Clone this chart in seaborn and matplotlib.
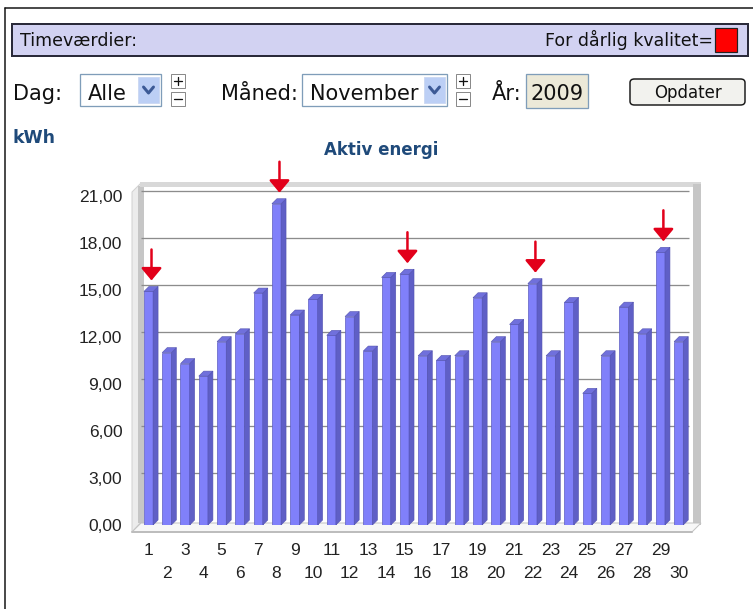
import numpy as np
import matplotlib.pyplot as plt
import seaborn as sns
from matplotlib.patches import Rectangle, Polygon, FancyBboxPatch
from matplotlib.lines import Line2D
from matplotlib.transforms import ScaledTranslation

# daily active energy, November 2009
days = list(range(1, 31))
kwh = [14.9, 11.0, 10.3, 9.5, 11.7, 12.2, 14.8, 20.5, 13.4, 14.4,
       12.1, 13.3, 11.1, 15.8, 16.0, 10.8, 10.5, 10.8, 14.5, 11.7,
       12.8, 15.4, 10.8, 14.2, 8.4, 10.8, 13.9, 12.2, 17.4, 11.7]
flagged = [1, 8, 15, 22, 29]
yticks = [0, 3, 6, 9, 12, 15, 18, 21]

sns.set_style("white")
plt.rcParams['font.family'] = ['DejaVu Sans']

W, H = 753, 609
fig = plt.figure(figsize=(W / 100, H / 100), dpi=100)
px = 0.72  # points per pixel


def fxy(x, y):
    return (x / W, 1 - y / H)


def box(x0, y0, x1, y1, **kw):
    fig.add_artist(Rectangle(fxy(x0, y1), (x1 - x0) / W, (y1 - y0) / H,
                             transform=fig.transFigure, **kw))


def poly(pts, **kw):
    fig.add_artist(Polygon([fxy(x, y) for x, y in pts], closed=True,
                           transform=fig.transFigure, **kw))


def line(pts, **kw):
    xs, ys = zip(*[fxy(x, y) for x, y in pts])
    fig.add_artist(Line2D(xs, ys, transform=fig.transFigure, **kw))


def text(x, y, s, **kw):
    fig.text(*fxy(x, y), s, **kw)


# ---- page chrome ----
line([(5, 8), (753, 8)], color='#111111', lw=1.5 * px, zorder=3)
line([(5, 8), (5, 609)], color='#111111', lw=1.5 * px, zorder=3)

box(12, 24, 748, 56, facecolor='#d2d2f2', edgecolor='#2a2a3a', lw=2 * px, zorder=3)
text(20, 46, 'Timeværdier:', fontsize=12.5, va='baseline', color='#111111', zorder=4)
text(713, 46, 'For dårlig kvalitet=', fontsize=12.5, va='baseline', ha='right',
     color='#111111', zorder=4)
box(715, 28, 737, 52, facecolor='#ff0000', edgecolor='#222222', lw=1.2 * px, zorder=4)


def combo(x0, x1, label):
    box(x0, 74, x1, 106, facecolor='white', edgecolor='#7f9db9', lw=1.3 * px, zorder=3)
    text(x0 + 8, 100, label, fontsize=15, va='baseline', color='#111111', zorder=4)
    box(x1 - 23, 77, x1 - 2, 103, facecolor='#bccff5', edgecolor='#c8d6f2', lw=0.8 * px, zorder=5)
    cx = x1 - 12.5
    line([(cx - 5, 87), (cx, 93), (cx + 5, 87)], color='#3c5a96', lw=3 * px, zorder=6)


def plusminus(x0):
    box(x0, 74, x0 + 14, 88, facecolor='white', edgecolor='#8a8a8a', lw=1 * px, zorder=3)
    box(x0, 92, x0 + 14, 106, facecolor='white', edgecolor='#8a8a8a', lw=1 * px, zorder=3)
    line([(x0 + 3, 81), (x0 + 11, 81)], color='#111111', lw=1.3 * px, zorder=4)
    line([(x0 + 7, 77), (x0 + 7, 85)], color='#111111', lw=1.3 * px, zorder=4)
    line([(x0 + 3, 99), (x0 + 11, 99)], color='#111111', lw=1.3 * px, zorder=4)


text(13, 100, 'Dag:', fontsize=15, va='baseline', color='#111111', zorder=4)
combo(80, 161, 'Alle')
plusminus(171)
text(221, 100, 'Måned:', fontsize=15, va='baseline', color='#111111', zorder=4)
combo(302, 447, 'November')
plusminus(456)
text(492, 100, 'År:', fontsize=15, va='baseline', color='#111111', zorder=4)
box(526, 74, 588, 108, facecolor='#ece9d8', edgecolor='#7f9db9', lw=1.3 * px, zorder=3)
text(531, 100, '2009', fontsize=15, va='baseline', color='#111111', zorder=4)

btn = FancyBboxPatch(fxy(630, 105), 115 / W, 26 / H, boxstyle='round,pad=0,rounding_size=0.006',
                     transform=fig.transFigure, facecolor='#f2f2ee', edgecolor='#1c1c1c',
                     lw=1.5 * px, zorder=3)
fig.add_artist(btn)
text(688, 93, 'Opdater', fontsize=12, ha='center', va='center', color='#111111', zorder=4)

text(12, 138, 'kWh', fontsize=12.5, fontweight='bold', va='center', color='#1f4a7a')
text(381, 150, 'Aktiv energi', fontsize=12, fontweight='bold', ha='center', va='center',
     color='#1f4a7a')

# ---- 3d frame around the plot area ----
poly([(132, 192), (141, 183), (141, 522), (132, 532)], facecolor='#ececec',
     edgecolor='#d2d2d2', lw=1 * px, zorder=-1)
box(138, 186, 144, 523, facecolor='#c6c6c6', lw=0, zorder=-1)
box(140, 182, 701, 187, facecolor='#d8d8d8', lw=0, zorder=-1)
box(693, 184, 701, 525, facecolor='#c6c6c6', lw=0, zorder=-1)
poly([(132, 532), (141, 523), (701, 523), (692, 532)], facecolor='#f7f7f7',
     edgecolor='#c2c2c2', lw=1 * px, zorder=-1)
line([(132, 532), (692, 532)], color='#bdbdbd', lw=2 * px, zorder=-1)

# ---- chart ----
ax = fig.add_axes([136 / W, 1 - 525 / H, 554 / W, (525 - 186.5) / H])
ax.set_facecolor('none')

face, side, top = '#8080fa', '#5f5fc6', '#7070dc'
sns.barplot(x=days, y=kwh, color=face, saturation=1, width=0.5,
            edgecolor='#5c5cc0', linewidth=0.5, ax=ax, zorder=2)
ax.set_xlim(-0.684, 29.62)
ax.set_ylim(0, 21.6)
ax.set_xlabel('')
ax.set_ylabel('')
for s in ax.spines.values():
    s.set_visible(False)

# fake depth on every bar
sx = ax.bbox.width / (29.62 + 0.684)
sy = ax.bbox.height / 21.6
dx, dy = 5 / sx, 5 / sy
for p in list(ax.patches):
    x0, w, h = p.get_x(), p.get_width(), p.get_height()
    x1 = x0 + w
    ax.add_patch(Polygon([(x1, 0), (x1 + dx, dy), (x1 + dx, h + dy), (x1, h)],
                         facecolor=side, edgecolor='#5252b0', lw=0.4, zorder=2))
    ax.add_patch(Polygon([(x0, h), (x0 + dx, h + dy), (x1 + dx, h + dy), (x1, h)],
                         facecolor=top, edgecolor='#5252b0', lw=0.4, zorder=2))

# gridlines live on the back wall
back = ax.get_yaxis_transform() + ScaledTranslation(0.05, 0.05, fig.dpi_scale_trans)
ax.hlines(yticks[1:], 0.0, 0.99, transform=back, color='#8c8c8c', lw=1.3 * px, zorder=0.5)

ax.set_yticks(yticks, labels=[f"{v:.2f}".replace('.', ',') for v in yticks],
              fontsize=12.5, fontfamily='Liberation Sans', color='#222222')
ax.tick_params(axis='y', length=4 * px, width=1 * px, color='#b0b0b0', pad=7)

odd = [i for i, d in enumerate(days) if d % 2 == 1]
even = [i for i, d in enumerate(days) if d % 2 == 0]
ax.set_xticks(odd, labels=[str(days[i]) for i in odd], fontsize=12.5,
              fontfamily='Liberation Sans', color='#222222')
ax.set_xticks(even, labels=[str(days[i]) for i in even], minor=True, fontsize=12.5,
              fontfamily='Liberation Sans', color='#222222')
ax.tick_params(axis='x', which='both', length=7 * px, width=1 * px, color='#7a7a7a',
               direction='out')
ax.tick_params(axis='x', which='major', pad=8)
ax.tick_params(axis='x', which='minor', pad=24.5)

# red markers above the flagged days
tip = ax.transData + ScaledTranslation(0.03, 0.11, fig.dpi_scale_trans)
for d in flagged:
    i = days.index(d)
    ax.annotate('', xy=(i, kwh[i]), xycoords=tip, xytext=(0, 31), textcoords='offset pixels',
                arrowprops=dict(arrowstyle='-|>,head_length=0.6,head_width=0.5',
                                mutation_scale=12.5, lw=1.8, color='#e2001a',
                                shrinkA=0, shrinkB=0))

fig.savefig('out.png', dpi=100)
